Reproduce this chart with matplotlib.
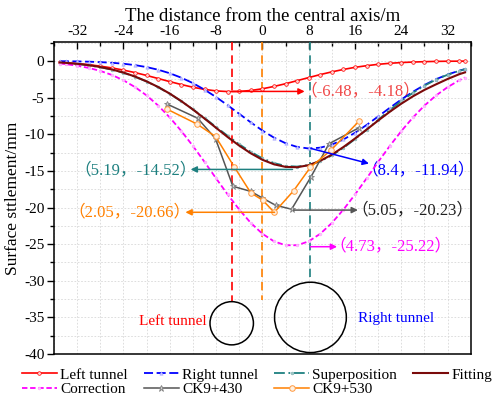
import matplotlib
matplotlib.use('Agg')
import matplotlib.pyplot as plt
from matplotlib.patches import Ellipse
from matplotlib.ticker import MultipleLocator

plt.rcParams['font.family'] = ['Liberation Serif', 'Noto Sans CJK SC']
plt.rcParams['axes.unicode_minus'] = False

# ---------------- data ----------------
x_model = [-35, -34, -32, -30, -28, -26, -24, -22, -20, -18, -16, -14, -12, -10, -8, -6, -4, -2,
           0, 2, 4, 6, 8, 10, 12, 14, 16, 18, 20, 22, 24, 26, 28, 30, 32, 34, 35]

left_tunnel = [-0.20, -0.24, -0.35, -0.50, -0.70, -0.94, -1.24, -1.58, -1.97, -2.39, -2.81, -3.21,
               -3.58, -3.87, -4.08, -4.17, -4.16, -4.02, -3.79, -3.47, -3.10, -2.68, -2.26, -1.85,
               -1.48, -1.15, -0.86, -0.64, -0.45, -0.31, -0.21, -0.14, -0.09, -0.05, -0.03, -0.02, -0.015]

right_tunnel = [-0.025, -0.03, -0.05, -0.09, -0.15, -0.24, -0.37, -0.56, -0.83, -1.19, -1.67, -2.28,
                -3.02, -3.91, -4.92, -6.04, -7.21, -8.38, -9.49, -10.46, -11.22, -11.73, -11.94, -11.83,
                -11.41, -10.71, -9.80, -8.73, -7.57, -6.39, -5.25, -4.20, -3.27, -2.48, -1.84, -1.32, -1.10]

superposition = [-0.22, -0.27, -0.40, -0.59, -0.85, -1.18, -1.61, -2.14, -2.80, -3.58, -4.48, -5.49,
                 -6.60, -7.78, -9.00, -10.21, -11.37, -12.40, -13.28, -13.93, -14.32, -14.41, -14.20, -13.68,
                 -12.89, -11.86, -10.66, -9.37, -8.02, -6.70, -5.46, -4.34, -3.36, -2.53, -1.87, -1.34, -1.12]

fitting = [-0.20, -0.25, -0.38, -0.56, -0.82, -1.15, -1.58, -2.12, -2.78, -3.55, -4.45, -5.48,
           -6.62, -7.85, -9.12, -10.38, -11.55, -12.60, -13.48, -14.10, -14.45, -14.50, -14.22, -13.62,
           -12.78, -11.74, -10.58, -9.36, -8.12, -6.93, -5.82, -4.82, -3.94, -3.18, -2.45, -1.80, -1.55]

correction = [-0.34, -0.42, -0.64, -0.94, -1.35, -1.90, -2.63, -3.56, -4.70, -6.08, -7.71, -9.56,
              -11.60, -13.77, -16.02, -18.22, -20.28, -22.11, -23.58, -24.62, -25.15, -25.15, -24.62, -23.58,
              -22.11, -20.28, -18.22, -16.02, -13.77, -11.60, -9.56, -7.71, -6.08, -4.70, -3.56, -2.63, -2.25]

x_ck430 = [-16.4, -11.2, -8.1, -5.1, -2.0, 0.0, 2.3, 5.05, 8.4, 11.5, 16.7]
y_ck430 = [-5.9, -7.8, -10.6, -17.1, -17.8, -18.7, -19.7, -20.23, -15.8, -11.3, -9.1]

x_ck530 = [-16.4, -11.3, -8.1, -4.9, -2.0, 0.05, 2.05, 5.4, 8.3, 11.8, 16.7]
y_ck530 = [-6.6, -8.6, -10.3, -14.4, -18.0, -19.0, -20.66, -17.7, -14.5, -12.2, -8.2]

x_ticks = [-32, -24, -16, -8, 0, 8, 16, 24, 32]
y_ticks = [0, -5, -10, -15, -20, -25, -30, -35, -40]

# ---------------- colors ----------------
c_red = '#FF0000'
c_blue = '#0000FF'
c_teal = '#1E8080'
c_dark = '#7A0A0A'
c_mag = '#FF00FF'
c_gray = '#555555'
c_orange = '#FF8000'

fig = plt.figure(figsize=(4.98, 3.96), dpi=100)
ax = fig.add_axes([0.1084, 0.106, 0.837, 0.788])

ax.set_xlim(-36, 36)
ax.set_ylim(-40, 2.6)

# grid
ax.xaxis.set_major_locator(plt.FixedLocator(x_ticks))
ax.xaxis.set_minor_locator(MultipleLocator(4))
ax.yaxis.set_major_locator(plt.FixedLocator(y_ticks))
ax.yaxis.set_minor_locator(MultipleLocator(2.5))
ax.grid(True, which='both', color='#d8d8d8', linestyle=(0, (2, 2)), linewidth=0.6, zorder=0)
ax.set_axisbelow(True)

# curves
h_left, = ax.plot(x_model, left_tunnel, color=c_red, lw=1.2, marker='o', ms=2.6,
                  mfc='#ffd0d0', mec=c_red, mew=0.5, zorder=4)
h_right, = ax.plot(x_model, right_tunnel, color=c_blue, lw=1.3, dashes=(5, 2), marker='^', ms=2.4,
                   mfc='#c8c8ff', mec='#a0a0ff', mew=0.4, zorder=4)
h_sup, = ax.plot(x_model, superposition, color=c_teal, lw=1.3, dashes=(6, 2, 1, 2), marker='o', ms=2.0,
                 mfc='#a0c8c8', mec='#80b0b0', mew=0.4, zorder=4)
h_fit, = ax.plot(x_model, fitting, color=c_dark, lw=1.5, zorder=5)
h_cor, = ax.plot(x_model, correction, color=c_mag, lw=1.3, dashes=(3, 1.5), marker='o', ms=2.0,
                 mfc='#ffc0ff', mec='#ffa0ff', mew=0.4, zorder=4)
h_430, = ax.plot(x_ck430, y_ck430, color=c_gray, lw=1.1, marker='*', ms=5, mfc='#d0d0d0',
                 mec='#808080', mew=0.6, zorder=6)
h_530, = ax.plot(x_ck530, y_ck530, color=c_orange, lw=1.1, marker='o', ms=4, mfc='#fff0e0',
                 mec='#ff9a40', mew=0.7, zorder=6)

# vertical tunnel axis lines
ax.plot([-5.3, -5.3], [2.6, -32.8], color=c_red, lw=1.2, dashes=(5, 3), zorder=3)
ax.plot([0.0, 0.0], [2.6, -32.6], color=c_orange, lw=1.2, dashes=(5, 3), zorder=3)
ax.plot([8.3, 8.3], [2.6, -30.0], color=c_teal, lw=1.2, dashes=(5, 3), zorder=3)

# tunnels
ax.add_patch(Ellipse((-5.3, -35.8), 7.5, 5.9, fill=False, ec='black', lw=1.1, zorder=3))
ax.add_patch(Ellipse((8.3, -35.0), 12.4, 9.6, fill=False, ec='black', lw=1.1, zorder=3))
ax.text(-9.6, -35.6, 'Left tunnel', color=c_red, fontsize=11, ha='right', va='center')
ax.text(16.5, -35.2, 'Right tunnel', color=c_blue, fontsize=11, ha='left', va='center')

# annotations
def arrow(start, end, color):
    ax.annotate('', xy=end, xytext=start,
                arrowprops=dict(arrowstyle='-|>', color=color, lw=1.1, mutation_scale=9,
                                shrinkA=0, shrinkB=0), zorder=7)

fs_ann = 12
arrow((-5.3, -4.15), (7.3, -4.15), c_red)
ax.text(6.6, -4.15, '（-6.48，-4.18）', color='#F04848', fontsize=fs_ann, ha='left', va='center')
arrow((8.4, -11.94), (18.4, -14.0), c_blue)
ax.text(17.1, -14.9, '（8.4，-11.94）', color=c_blue, fontsize=fs_ann, ha='left', va='center')
arrow((5.4, -20.35), (16.5, -20.35), c_gray)
ax.text(15.4, -20.4, '（5.05，-20.23）', color='#202020', fontsize=fs_ann, ha='left', va='center')
arrow((8.3, -25.35), (12.9, -25.35), c_mag)
ax.text(11.6, -25.35, '（4.73，-25.22）', color=c_mag, fontsize=fs_ann, ha='left', va='center')
arrow((5.2, -14.8), (-12.4, -14.8), c_teal)
ax.text(-11.4, -14.9, '（5.19，-14.52）', color=c_teal, fontsize=fs_ann, ha='right', va='center')
arrow((2.1, -20.65), (-13.3, -20.65), c_orange)
ax.text(-12.4, -20.7, '（2.05，-20.66）', color=c_orange, fontsize=fs_ann, ha='right', va='center')

# axes styling
ax.xaxis.tick_top()
ax.xaxis.set_label_position('top')
ax.set_xticklabels([str(v) for v in x_ticks])
ax.set_yticklabels([str(v) for v in y_ticks])
ax.tick_params(axis='x', which='major', direction='in', length=5, width=1, labelsize=11, pad=3)
ax.tick_params(axis='x', which='minor', direction='in', length=3, width=1)
ax.tick_params(axis='y', which='major', direction='out', length=5, width=1, labelsize=11, pad=2)
ax.tick_params(axis='y', which='minor', direction='out', length=3, width=1)
for s in ax.spines.values():
    s.set_linewidth(1.1)
ax.set_xlabel('The distance from the central axis/m', fontsize=13.5, labelpad=3)
ax.set_ylabel('Surface sttlement/mm', fontsize=12.5, labelpad=2)

# legend
handles = [h_left, h_cor, h_right, h_430, h_sup, h_530, h_fit]
leg_labels = ['Left tunnel', 'Correction', 'Right tunnel', 'CK9+430', 'Superposition', 'CK9+530', 'Fitting']
fig.legend(handles, leg_labels, ncol=4, loc='upper left', bbox_to_anchor=(0.044, 0.071),
           frameon=False, fontsize=11, handlelength=2.3, handletextpad=0.2, columnspacing=1.05,
           labelspacing=0.05, borderaxespad=0, borderpad=0)

fig.savefig('out.png', dpi=100)
